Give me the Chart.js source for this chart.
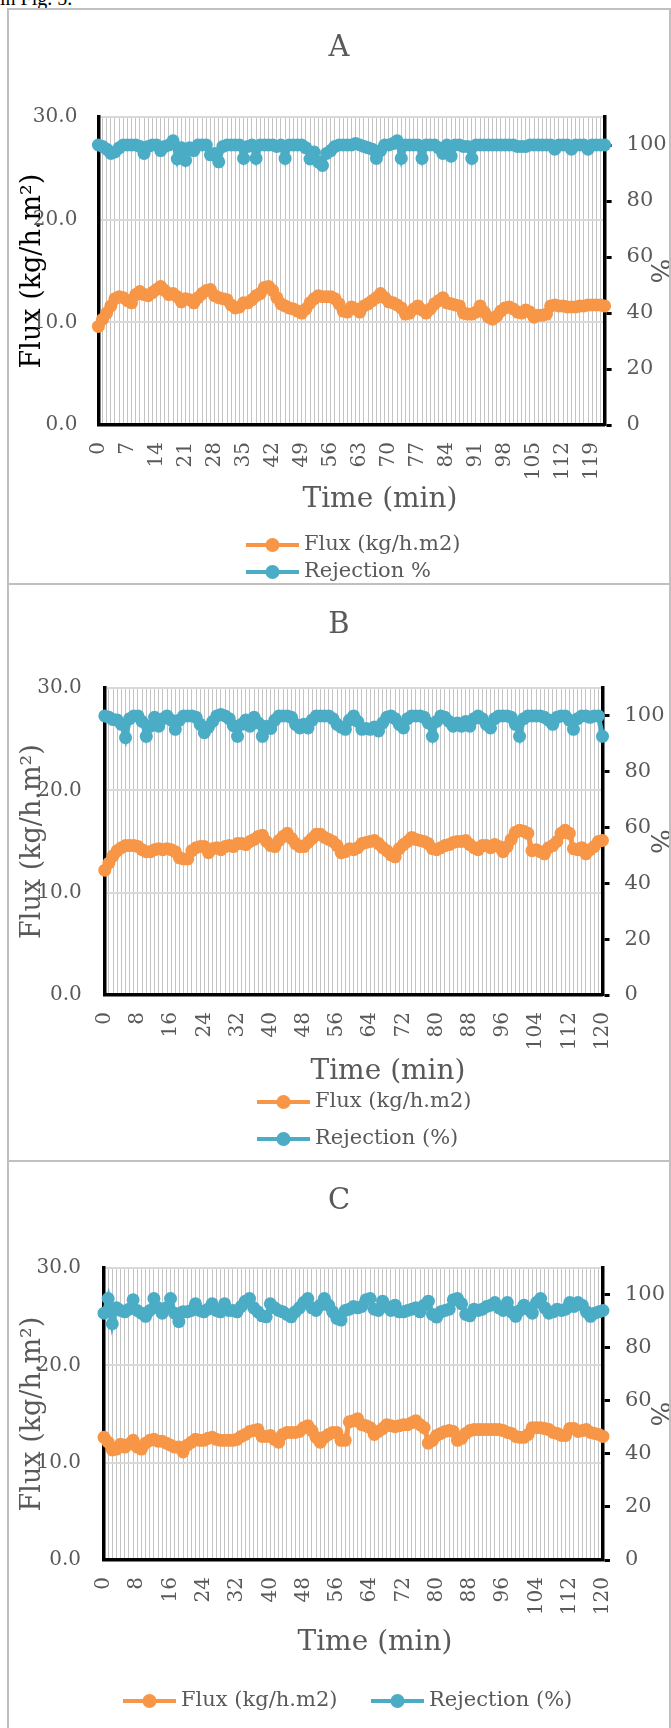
<!DOCTYPE html>
<html>
<head>
<meta charset="utf-8">
<script src="https://cdn.jsdelivr.net/npm/chart.js@4.4.0/dist/chart.umd.min.js"></script>
<style>
body { margin:0; background:#fff; width:671px; height:1728px; overflow:hidden; position:relative; }
#note { position:absolute; left:0; top:-12px; font:20px 'Liberation Serif', serif; line-height:20px; color:#000; }
.cell { position:absolute; left:7px; width:660px; border:2px solid #c0c0c0; border-bottom:none; }
.cell canvas { display:block; }
</style>
</head>
<body>
<div id="note">in Fig. 5.</div>
<div class="cell" style="top:8px;height:573px"><canvas id="chartA" width="660" height="573"></canvas></div>
<div class="cell" style="top:583px;height:575px"><canvas id="chartB" width="660" height="575"></canvas></div>
<div class="cell" style="top:1160px;height:568px"><canvas id="chartC" width="660" height="566"></canvas></div>
<script>
// time axis (min)
var timeA = [0,1,2,3,4,5,6,7,8,9,10,11,12,13,14,15,16,17,18,19,20,21,22,23,24,25,26,27,28,29,30,
  31,32,33,34,35,36,37,38,39,40,41,42,43,44,45,46,47,48,49,50,51,52,53,54,55,56,57,58,59,60,
  61,62,63,64,65,66,67,68,69,70,71,72,73,74,75,76,77,78,79,80,81,82,83,84,85,86,87,88,89,90,
  91,92,93,94,95,96,97,98,99,100,101,102,103,104,105,106,107,108,109,110,111,112,113,114,115,
  116,117,118,119,120,121,122];
var timeBC = [0,1,2,3,4,5,6,7,8,9,10,11,12,13,14,15,16,17,18,19,20,21,22,23,24,25,26,27,28,29,30,
  31,32,33,34,35,36,37,38,39,40,41,42,43,44,45,46,47,48,49,50,51,52,53,54,55,56,57,58,59,60,
  61,62,63,64,65,66,67,68,69,70,71,72,73,74,75,76,77,78,79,80,81,82,83,84,85,86,87,88,89,90,
  91,92,93,94,95,96,97,98,99,100,101,102,103,104,105,106,107,108,109,110,111,112,113,114,115,
  116,117,118,119,120];

var fluxA = [9.6,10.3,10.9,11.6,12.3,12.5,12.4,12.1,11.9,12.7,
  13.0,12.7,12.6,12.9,13.2,13.5,13.1,12.7,12.8,12.5,
  12.0,12.3,12.2,11.9,12.4,12.8,13.1,13.2,12.6,12.4,
  12.3,12.2,11.7,11.4,11.5,11.9,11.9,12.2,12.6,12.8,
  13.4,13.5,13.1,12.4,11.8,11.6,11.4,11.3,11.1,10.9,
  11.3,11.9,12.3,12.6,12.5,12.5,12.5,12.3,11.8,11.1,
  11.0,11.5,11.3,11.0,11.6,11.8,12.1,12.4,12.8,12.4,
  12.0,11.9,11.7,11.4,10.8,10.9,11.3,11.6,11.2,10.9,
  11.3,11.8,12.1,12.4,11.9,11.8,11.7,11.6,10.9,10.8,
  10.8,11.0,11.6,11.0,10.5,10.3,10.6,11.1,11.4,11.5,
  11.3,11.0,10.9,11.2,11.0,10.5,10.7,10.7,10.8,11.6,
  11.7,11.6,11.6,11.5,11.5,11.5,11.6,11.6,11.7,11.7,
  11.7,11.7,11.6];
var rejA = [100,99.5,98.5,97,97.5,99,100,100,100,100,
  99.5,97,99.5,100,100,98,99.5,100,101.5,95,
  99,94.5,99,98,100,100,100,96.5,97,94,
  99.5,100,100,100,100,95.2,99.5,100,95.2,100,
  100,100,100,99.5,100,95.2,100,100,100,100,
  99,95,97.5,94,92.7,97,98,99.5,100,100,
  100,100,100.5,100,99.5,99,98.5,95.2,98,100,
  100,100.5,101.5,95.2,100,100,100,100,95.2,100,
  100,100,99,97,100,96,100,100,99.5,99.5,
  95.2,100,100,100,100,100,100,100,100,100,
  100,99.5,99.5,99.5,100,100,100,100,100,100,
  98.5,100,100,100,98.5,100,100,100,98.5,100,
  100,100,100];

var fluxB = [12.2,12.9,13.6,14.1,14.4,14.6,14.6,14.6,14.5,14.2,
  14.0,14.0,14.2,14.3,14.2,14.3,14.2,14.0,13.4,13.3,
  13.3,14.1,14.4,14.5,14.5,13.9,14.3,14.4,14.2,14.5,
  14.6,14.5,14.8,14.8,14.7,15.0,15.2,15.5,15.6,15.0,
  14.6,14.5,15.1,15.5,15.8,15.3,14.8,14.5,14.5,14.9,
  15.3,15.7,15.7,15.4,15.2,15.0,14.6,13.9,14.0,14.3,
  14.2,14.4,14.8,14.9,15.0,15.1,14.8,14.4,14.1,13.7,
  13.5,14.3,14.7,15.0,15.4,15.2,15.1,15.0,14.8,14.3,
  14.2,14.4,14.6,14.7,14.9,15.0,15.0,15.1,14.7,14.4,
  14.2,14.6,14.6,14.4,14.7,14.5,14.0,14.5,15.2,15.9,
  16.1,16.0,15.8,14.1,14.2,14.0,13.8,14.4,14.6,15.0,
  15.8,16.1,15.8,14.3,14.2,14.4,13.8,14.2,14.5,15.0,
  15.1];
var rejB = [100,99.5,98.7,98.5,97,92.2,99,100,100,98,
  92.7,96.3,99.5,96.3,99,100,98.5,95.2,98.5,100,
  100,100,99.5,97,94,96,98,100,100.5,100,
  99,96.5,92.7,97,98.5,96.3,99.5,97.5,92.7,96.3,
  95.5,98.5,100,100,100,99.5,97,95.7,97,95.7,
  98.5,100,100,100,100,99,97,96,95.2,98.5,
  100,98,95.2,95.5,95.2,96,94.6,97.5,99.5,100,
  99,97,95.7,99,100,100,100,99.5,97.5,92.7,
  98,100,99.5,98,96.3,97.5,96.3,98,96.3,99,
  100,99,97,95.7,99,100,100,100,99.5,97,
  92.7,99,100,100,100,100,99.5,98.5,97,99.5,
  100,100,98.5,95.2,99,100,100,99.5,100,100,
  92.7];

var fluxC = [12.6,12.1,11.3,11.4,11.9,11.6,11.9,12.3,11.6,11.4,
  12.0,12.3,12.4,12.2,12.2,12.0,11.8,11.6,11.6,11.1,
  11.8,12.1,12.4,12.3,12.3,12.5,12.6,12.4,12.3,12.3,
  12.3,12.3,12.4,12.7,12.9,13.2,13.3,13.4,12.7,12.7,
  12.8,12.4,12.1,12.9,13.1,13.1,13.1,13.2,13.6,13.8,
  13.3,12.6,12.1,12.6,12.9,13.1,13.1,12.3,12.3,14.2,
  14.3,14.5,13.9,13.8,13.6,12.9,13.2,13.5,13.9,13.8,
  13.7,13.8,13.9,13.9,14.1,14.3,13.9,13.6,12.0,12.3,
  12.8,13.0,13.2,13.3,13.2,12.3,12.5,13.0,13.3,13.4,
  13.4,13.4,13.4,13.4,13.4,13.4,13.3,13.1,13.0,12.7,
  12.6,12.6,12.9,13.6,13.6,13.6,13.5,13.4,13.1,13.0,
  12.8,12.8,13.5,13.5,13.2,13.3,13.4,13.1,13.0,12.9,
  12.7];
var rejC = [93,98.5,89,95,94,93.5,94.5,98,94,93,
  91.8,94,98.5,95,93,95,98.5,93,89.8,93.5,
  93.5,94,96.5,94,93.5,94.5,96.5,94,93.5,96.5,
  94,94,93.5,95.5,97.5,98.5,95,93.5,92,91.6,
  96.5,95,94,93.5,92.5,91.6,93.5,95,97,98.5,
  95,94,96,98.5,96,93.5,91,90.4,94,94.5,
  95.5,95,95.5,98,98.5,94.5,94,97.5,95.5,94,
  96,93.5,93.5,94,94.5,95,93.5,96,97.5,92.5,
  91.5,93.5,94,94.5,98,98.5,96.5,92.5,92,94.5,
  94,94.5,95.5,96,97,95,94,97,93.5,91.8,
  94,96,94.5,93,97,98.5,95,93,93.5,94.5,
  94,94.5,97,95.5,97,96,93.5,91.8,93,93.5,
  94];

var fluxTicks = [0, 10, 20, 30];
var rejTicks = [0, 20, 40, 60, 80, 100];

var orange = '#f79646';
var blue = '#4bacc6';
var grey = '#595959';
var serif = "'DejaVu Serif', serif";

Chart.defaults.font.family = serif;

// x title and the key, placed where the original has them
var panelText = {
  id: 'panelText',
  afterDraw: function(chart, args, opts) {
    var ctx = chart.ctx;
    ctx.save();
    ctx.fillStyle = grey;
    ctx.font = '28px ' + serif;
    ctx.textAlign = 'center';
    ctx.textBaseline = 'middle';
    ctx.fillText('Time (min)', opts.xTitle[0], opts.xTitle[1]);
    ctx.font = '21px ' + serif;
    ctx.textAlign = 'left';
    chart.data.datasets.forEach(function(ds, i) {
      var k = opts.keys[i];
      ctx.strokeStyle = ds.borderColor;
      ctx.lineWidth = 4;
      ctx.beginPath();
      ctx.moveTo(k[0], k[1]);
      ctx.lineTo(k[0] + 53, k[1]);
      ctx.stroke();
      ctx.fillStyle = ds.borderColor;
      ctx.beginPath();
      ctx.arc(k[0] + 26.5, k[1], 7, 0, Math.PI * 2);
      ctx.fill();
      ctx.fillStyle = grey;
      ctx.fillText(ds.label, k[0] + 58, k[1]);
    });
    ctx.restore();
  }
};

function drawPanel(id, p) {
  var canvas = document.getElementById(id);
  var W = canvas.width, H = canvas.height;
  new Chart(canvas, {
    type: 'line',
    data: {
      labels: p.times,
      datasets: [{
        label: 'Flux (kg/h.m2)',
        data: p.flux,
        yAxisID: 'y',
        borderColor: orange,
        backgroundColor: orange,
        borderWidth: 5,
        pointRadius: 6.5,
        pointBorderWidth: 0,
        clip: false
      }, {
        label: p.rejLabel,
        data: p.rej,
        yAxisID: 'y1',
        borderColor: blue,
        backgroundColor: blue,
        borderWidth: 5,
        pointRadius: 6.5,
        pointBorderWidth: 0,
        clip: false
      }]
    },
    options: {
      responsive: false,
      animation: false,
      events: [],
      layout: { padding: 0 },
      plugins: {
        legend: { display: false },
        tooltip: { enabled: false },
        title: {
          display: true,
          text: p.name,
          color: grey,
          font: { size: 29, weight: 'normal' },
          padding: { top: p.titleTop, bottom: p.top - p.titleTop - 34.8 }
        },
        panelText: { xTitle: p.xTitle, keys: p.keys }
      },
      scales: {
        x: {
          offset: false,
          grid: { color: '#c4c4c4', lineWidth: 1, drawTicks: false },
          border: { color: '#000', width: 3.5 },
          ticks: {
            autoSkip: false,
            minRotation: 90,
            maxRotation: 90,
            padding: 17,
            color: grey,
            font: { size: 20 },
            callback: function(v, i) { return i % p.step === 0 ? this.getLabelForValue(v) : ''; }
          },
          afterFit: function(s) { s.height = H - p.bottom; }
        },
        y: {
          position: 'left',
          min: fluxTicks[0],
          max: fluxTicks[fluxTicks.length - 1],
          grid: { color: '#d9d9d9', lineWidth: 2, drawTicks: false },
          border: { color: '#000', width: 3.5 },
          ticks: {
            stepSize: 10,
            padding: p.yPad,
            color: grey,
            font: { size: 20 },
            callback: function(v) { return v.toFixed(1); }
          },
          title: {
            display: true,
            text: 'Flux (kg/h.m²)',
            color: p.yTitleColor,
            font: { size: 27 },
            padding: { top: 8, bottom: 0 }
          },
          afterFit: function(s) { s.width = p.left; }
        },
        y1: {
          position: 'right',
          min: 0,
          max: 110,
          grid: { drawOnChartArea: false, tickLength: 7, tickColor: '#000', tickWidth: 3 },
          border: { color: '#000', width: 3.5 },
          ticks: {
            stepSize: 20,
            includeBounds: false,
            padding: 15,
            color: grey,
            font: { size: 21 },
            callback: function(v) { return rejTicks.indexOf(v) >= 0 ? String(v) : null; }
          },
          title: {
            display: true,
            text: '%',
            color: grey,
            font: { size: 26, lineHeight: 0.9 },
            padding: 0
          },
          afterFit: function(s) { s.width = W - p.right; }
        }
      }
    },
    plugins: [panelText]
  });
}

drawPanel('chartA', {
  name: 'A', times: timeA, flux: fluxA, rej: rejA, rejLabel: 'Rejection %', step: 7,
  left: 89.4, right: 595.6, top: 107, bottom: 415, titleTop: 21, yPad: 21, yTitleColor: '#000',
  xTitle: [371, 490], keys: [[237, 535], [237, 562]]
});
drawPanel('chartB', {
  name: 'B', times: timeBC, flux: fluxB, rej: rejB, rejLabel: 'Rejection (%)', step: 8,
  left: 95.8, right: 593.5, top: 103, bottom: 410, titleTop: 23, yPad: 23, yTitleColor: grey,
  xTitle: [379, 487], keys: [[248, 517], [248, 554]]
});
drawPanel('chartC', {
  name: 'C', times: timeBC, flux: fluxC, rej: rejC, rejLabel: 'Rejection (%)', step: 8,
  left: 95, right: 594, top: 106, bottom: 398, titleTop: 22, yPad: 23, yTitleColor: grey,
  xTitle: [366, 481], keys: [[114, 539], [362, 539]]
});
</script>
</body>
</html>
